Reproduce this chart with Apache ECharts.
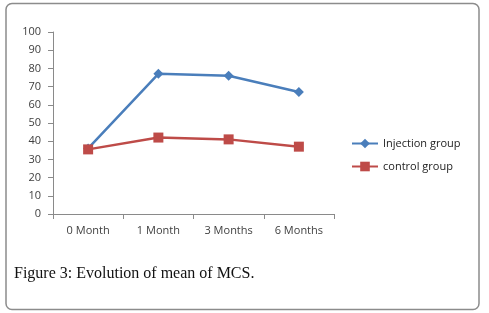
<!DOCTYPE html>
<html><head><meta charset="utf-8">
<script src="https://cdn.jsdelivr.net/npm/echarts@6/dist/echarts.min.js"></script>
<style>html,body{margin:0;padding:0;background:#fff}#c{width:489px;height:313px}</style>
</head><body><div id="c"></div>
<script>
var categories = ['0 Month', '1 Month', '3 Months', '6 Months'];
var injection = [36, 77, 76, 67];
var control = [35.5, 42, 41, 37];
var yTicks = [0, 10, 20, 30, 40, 50, 60, 70, 80, 90, 100];
var caption = 'Figure 3: Evolution of mean of MCS.';

var chart = echarts.init(document.getElementById('c'));
var lab = {color: '#404040', fontSize: 11, fontFamily: 'Open Sans'};
chart.setOption({
  animation: false,
  graphic: [
    {type: 'rect', shape: {x: 6, y: 3.5, width: 473, height: 306, r: 6},
     style: {fill: 'none', stroke: '#8c8c8c', lineWidth: 1.5}},
    {type: 'text', left: 14, top: 266,
     style: {text: caption, font: '16px "Liberation Serif"', fill: '#111'}}
  ],
  grid: {left: 53, right: 155, top: 32, bottom: 99},
  legend: {
    orient: 'vertical', left: 346, top: 133, itemWidth: 26, itemHeight: 12, itemGap: 12,
    textStyle: {color: '#222', fontSize: 11, fontFamily: 'Open Sans'},
    data: ['Injection group', 'control group']
  },
  xAxis: {
    type: 'category', data: categories, boundaryGap: true,
    axisLine: {lineStyle: {color: '#8a8a8a', width: 1}},
    axisTick: {show: true, length: 5, lineStyle: {color: '#8a8a8a'}},
    axisLabel: Object.assign({margin: 11}, lab)
  },
  yAxis: {
    type: 'value', min: 0, max: 100, interval: 10,
    axisLine: {show: true, lineStyle: {color: '#8a8a8a', width: 1}},
    axisTick: {show: true, length: 5, lineStyle: {color: '#8a8a8a'}},
    splitLine: {show: false},
    axisLabel: Object.assign({margin: 12, formatter: function(v){return yTicks.indexOf(v) >= 0 ? String(v) : '';}}, lab)
  },
  series: [
    {name: 'Injection group', type: 'line', data: injection, symbol: 'diamond', symbolSize: 10,
     lineStyle: {color: '#4a7ebb', width: 2.5}, itemStyle: {color: '#4a7ebb'}},
    {name: 'control group', type: 'line', data: control, symbol: 'rect', symbolSize: 10,
     lineStyle: {color: '#be4b48', width: 2.5}, itemStyle: {color: '#be4b48'}}
  ]
});
</script></body></html>
